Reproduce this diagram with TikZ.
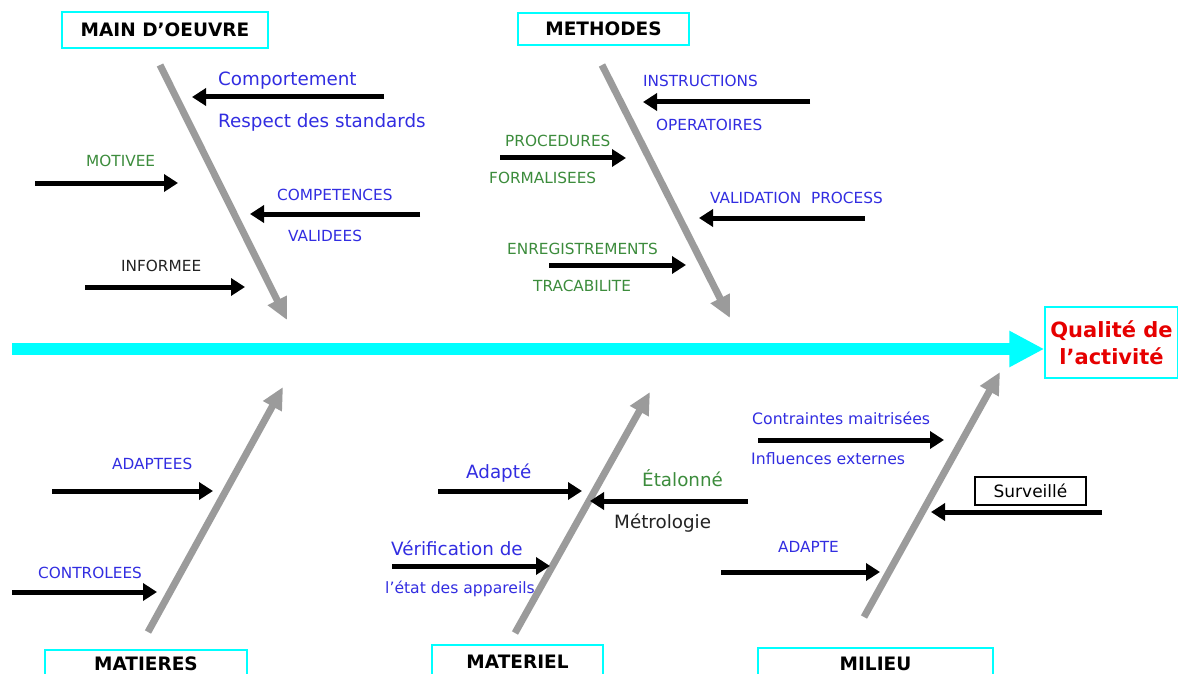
\documentclass[tikz,border=0pt]{standalone}
\usepackage{fontspec}
\setmainfont{DejaVu Sans}
\usetikzlibrary{arrows.meta}
\definecolor{lblue}{RGB}{50,45,225}
\definecolor{lgreen}{RGB}{60,140,60}
\definecolor{bonec}{RGB}{155,155,155}
\definecolor{spinec}{RGB}{0,255,255}
\definecolor{qred}{RGB}{230,0,0}
\definecolor{dtext}{RGB}{35,35,35}
\begin{document}
\begin{tikzpicture}[x=1pt,y=-1pt,
  catbox/.style={draw=spinec, line width=1.5pt, fill=white, inner sep=0pt,
    font=\fontsize{18.5}{21}\selectfont\bfseries, text=black},
  smalllbl/.style={font=\fontsize{15.3}{18}\selectfont, anchor=mid west, inner sep=0pt},
  biglbl/.style={font=\fontsize{18.3}{21}\selectfont, anchor=mid west, inner sep=0pt},
  barrow/.style={line width=5pt, -{Triangle[length=14pt,width=17pt]}},
  bonearrow/.style={draw=bonec, line width=7pt, -{Triangle[length=22pt,width=20pt]}},
  spinearrow/.style={draw=spinec, line width=12pt, -{Triangle[length=35pt,width=34pt]}},
]
\clip (0,0) rectangle (1178,674);
\fill[white] (0,0) rectangle (1178,674);

% category boxes
\node[catbox, minimum width=206pt, minimum height=36pt] (mo) at (165,30) {MAIN D’OEUVRE};
\node[catbox, minimum width=171pt, minimum height=32pt] (me) at (603.5,29) {METHODES};
\node[catbox, minimum width=202pt, minimum height=28pt] (ma) at (146,664) {MATIERES};
\node[catbox, minimum width=171pt, minimum height=34pt] (mt) at (517.5,662) {MATERIEL};
\node[catbox, minimum width=235pt, minimum height=32pt] (mi) at (875.5,664) {MILIEU};

% effect box
\node[draw=spinec, line width=1.5pt, minimum width=133pt, minimum height=71pt, inner sep=0pt,
  text=qred, align=center, font=\fontsize{21}{27}\selectfont\bfseries] (q) at (1111.5,342.5)
  {Qualité de\\l’activité};

% spine
\coordinate (s0) at (12,349);
\draw[spinearrow] (s0) -- (s0 -| q.west);

% bones
\coordinate (b1s) at (160,65);  \coordinate (b1e) at (287,320);
\coordinate (b2s) at (602,65);  \coordinate (b2e) at (730,318);
\coordinate (b3s) at (148,632); \coordinate (b3e) at (283,387);
\coordinate (b4s) at (515,633); \coordinate (b4e) at (650,392);
\coordinate (b5s) at (864,617); \coordinate (b5e) at (1000,372);
\draw[bonearrow] (b1s) -- (b1e);
\draw[bonearrow] (b2s) -- (b2e);
\draw[bonearrow] (b3s) -- (b3e);
\draw[bonearrow] (b4s) -- (b4e);
\draw[bonearrow] (b5s) -- (b5e);

% --- MAIN D'OEUVRE causes
\coordinate (a1s) at (384,97);  \coordinate (a1e) at (192,97);
\coordinate (a2s) at (35,183);  \coordinate (a2e) at (178,183);
\coordinate (a3s) at (420,214); \coordinate (a3e) at (250,214);
\coordinate (a4s) at (85,287);  \coordinate (a4e) at (245,287);
\draw[barrow] (a1s) -- (a1e);
\draw[barrow] (a2s) -- (a2e);
\draw[barrow] (a3s) -- (a3e);
\draw[barrow] (a4s) -- (a4e);
\node[biglbl, text=lblue] (t1) at (218,83) {Comportement};
\node[biglbl, text=lblue] (t2) at (218,125) {Respect des standards};
\node[smalllbl, text=lgreen] (t3) at (86,164) {MOTIVEE};
\node[smalllbl, text=lblue] (t4) at (277,198) {COMPETENCES};
\node[smalllbl, text=lblue] (t5) at (288,239) {VALIDEES};
\node[smalllbl, text=dtext] (t6) at (121,269) {INFORMEE};

% --- METHODES causes
\coordinate (c1s) at (810,102); \coordinate (c1e) at (643,102);
\coordinate (c2s) at (500,158); \coordinate (c2e) at (626,158);
\coordinate (c3s) at (865,218); \coordinate (c3e) at (699,218);
\coordinate (c4s) at (549,265); \coordinate (c4e) at (686,265);
\draw[barrow] (c1s) -- (c1e);
\draw[barrow] (c2s) -- (c2e);
\draw[barrow] (c3s) -- (c3e);
\draw[barrow] (c4s) -- (c4e);
\node[smalllbl, text=lblue] (u1) at (643,84) {INSTRUCTIONS};
\node[smalllbl, text=lblue] (u2) at (656,128) {OPERATOIRES};
\node[smalllbl, text=lgreen] (u3) at (505,144) {PROCEDURES};
\node[smalllbl, text=lgreen] (u4) at (489,181) {FORMALISEES};
\node[smalllbl, text=lblue] (u5) at (710,201) {VALIDATION\ \ PROCESS};
\node[smalllbl, text=lgreen] (u6) at (507,252) {ENREGISTREMENTS};
\node[smalllbl, text=lgreen] (u7) at (533,289) {TRACABILITE};

% --- MATIERES causes
\coordinate (d1s) at (52,491);  \coordinate (d1e) at (213,491);
\coordinate (d2s) at (12,592);  \coordinate (d2e) at (157,592);
\draw[barrow] (d1s) -- (d1e);
\draw[barrow] (d2s) -- (d2e);
\node[smalllbl, text=lblue] (v1) at (112,467) {ADAPTEES};
\node[smalllbl, text=lblue] (v2) at (38,576) {CONTROLEES};

% --- MATERIEL causes
\coordinate (e1s) at (438,491); \coordinate (e1e) at (582,491);
\coordinate (e2s) at (748,501); \coordinate (e2e) at (590,501);
\coordinate (e3s) at (392,566); \coordinate (e3e) at (550,566);
\draw[barrow] (e1s) -- (e1e);
\draw[barrow] (e2s) -- (e2e);
\draw[barrow] (e3s) -- (e3e);
\node[biglbl, text=lblue] (w1) at (466,476) {Adapté};
\node[biglbl, text=lgreen] (w2) at (642,484) {Étalonné};
\node[biglbl, text=dtext] (w3) at (614,526) {Métrologie};
\node[biglbl, text=lblue] (w4) at (391,553) {Vérification de};
\node[font=\fontsize{15.6}{18}\selectfont, anchor=mid west, inner sep=0pt, text=lblue] (w5) at (385,591) {l’état des appareils};

% --- MILIEU causes
\coordinate (f1s) at (758,440);  \coordinate (f1e) at (944,440);
\coordinate (f2s) at (1102,512); \coordinate (f2e) at (931,512);
\coordinate (f3s) at (721,572);  \coordinate (f3e) at (880,572);
\draw[barrow] (f1s) -- (f1e);
\draw[barrow] (f2s) -- (f2e);
\draw[barrow] (f3s) -- (f3e);
\node[smalllbl, font=\fontsize{15.7}{18}\selectfont, text=lblue] (x1) at (752,422) {Contraintes maitrisées};
\node[smalllbl, font=\fontsize{15.7}{18}\selectfont, text=lblue] (x2) at (751,462) {Influences externes};
\node[smalllbl, text=lblue] (x3) at (778,550) {ADAPTE};
\node[draw=black, line width=1.2pt, minimum width=111pt, minimum height=28pt, inner sep=0pt,
  font=\fontsize{17}{20}\selectfont, text=black] (sv) at (1030.5,491) {Surveillé};
\end{tikzpicture}
\end{document}
